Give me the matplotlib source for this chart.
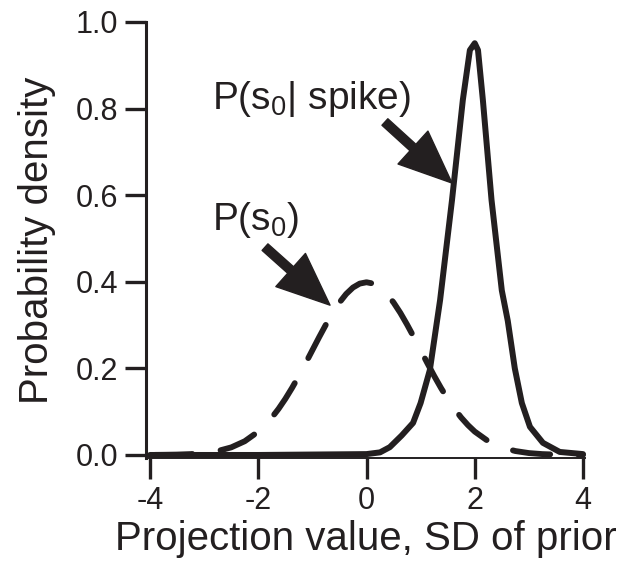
import numpy as np
import matplotlib
matplotlib.use("Agg")
import matplotlib.pyplot as plt

plt.rcParams['font.family'] = ['Liberation Sans', 'DejaVu Sans']
plt.rcParams['mathtext.fontset'] = 'custom'
plt.rcParams['mathtext.rm'] = 'Liberation Sans'
plt.rcParams['mathtext.it'] = 'Liberation Sans'
plt.rcParams['lines.scale_dashes'] = False

ink = '#231f20'

# prior P(s0)
prior_x = [-4.0, -3.75, -3.5, -3.25, -3.0, -2.75, -2.5, -2.25, -2.0, -1.875, -1.75, -1.625,
           -1.5, -1.375, -1.25, -1.125, -1.0, -0.875, -0.75, -0.625, -0.5, -0.375, -0.25,
           -0.125, 0.0, 0.125, 0.25, 0.375, 0.5, 0.625, 0.75, 0.875, 1.0, 1.125, 1.25,
           1.375, 1.5, 1.625, 1.75, 1.875, 2.0, 2.25, 2.5, 2.75, 3.0, 3.25, 3.5, 3.75, 4.0]
prior_y = [0.0001, 0.0004, 0.0009, 0.002, 0.0044, 0.0091, 0.0175, 0.0317, 0.054, 0.0689,
           0.0863, 0.1065, 0.1295, 0.155, 0.1826, 0.2119, 0.242, 0.2721, 0.3011, 0.3282,
           0.3521, 0.3719, 0.3867, 0.3958, 0.3989, 0.3958, 0.3867, 0.3719, 0.3521, 0.3282,
           0.3011, 0.2721, 0.242, 0.2119, 0.1826, 0.155, 0.1295, 0.1065, 0.0863, 0.0689,
           0.054, 0.0317, 0.0175, 0.0091, 0.0044, 0.002, 0.0009, 0.0004, 0.0001]

# spike-triggered P(s0 | spike), solid curve
spk_x = [-4.0, -2.0, 0.0, 0.25, 0.43, 0.65, 0.86, 1.0, 1.17, 1.36, 1.58, 1.78, 1.91, 2.0,
         2.06, 2.15, 2.31, 2.5, 2.61, 2.74, 2.87, 3.02, 3.26, 3.57, 4.0]
spk_y = [0.0, 0.0, 0.002, 0.006, 0.018, 0.045, 0.074, 0.12, 0.196, 0.358, 0.589, 0.82, 0.935,
         0.951, 0.935, 0.82, 0.589, 0.38, 0.31, 0.2, 0.12, 0.065, 0.028, 0.007, 0.002]

xticks = [-4, -2, 0, 2, 4]
yticks = [0.0, 0.2, 0.4, 0.6, 0.8, 1.0]

fig = plt.figure(figsize=(6.21, 5.63), dpi=100)
ax = fig.add_axes([146 / 621, 1 - 458 / 563, (585 - 146) / 621, (458 - 22) / 563])

ax.plot(prior_x, prior_y, color=ink, lw=4.2, linestyle=(44, (27, 20.5)), dash_capstyle='round',
        solid_capstyle='round', dash_joinstyle='round', clip_on=False)
ax.plot(spk_x, spk_y, color=ink, lw=4.3, solid_capstyle='round', solid_joinstyle='round',
        clip_on=False)

ax.set_xlim(-4.074, 4.037)
ax.set_ylim(-0.007, 1.0)
ax.set_xticks(xticks)
ax.set_yticks(yticks)
ax.set_xticklabels([f'{t:d}' for t in xticks])
ax.set_yticklabels([f'{t:.1f}' for t in yticks])

for s in ['top', 'right']:
    ax.spines[s].set_visible(False)
ax.spines['left'].set_linewidth(2.2)
ax.spines['bottom'].set_linewidth(1.4)
ax.spines['left'].set_color(ink)
ax.spines['bottom'].set_color(ink)
ax.tick_params(axis='both', direction='out', length=15, width=2.4, colors=ink,
               labelsize=22, pad=5)

ax.set_xlabel('Projection value, SD of prior', fontsize=29, color=ink, labelpad=3)
ax.set_ylabel('Probability density', fontsize=29, color=ink, labelpad=14)

ax.text(-2.855, 0.799, r'P(s$_0$| spike)', fontsize=28, color=ink, ha='left', va='baseline')
ax.text(-2.855, 0.52, r'P(s$_0$)', fontsize=28, color=ink, ha='left', va='baseline')

arrow = dict(facecolor=ink, edgecolor=ink, width=6.3, headwidth=32, headlength=38, shrink=0)
ax.annotate('', xy=(1.58, 0.628), xytext=(0.34, 0.769), arrowprops=arrow)
ax.annotate('', xy=(-0.674, 0.346), xytext=(-1.875, 0.48), arrowprops=arrow)

fig.savefig('out.png', dpi=100)
